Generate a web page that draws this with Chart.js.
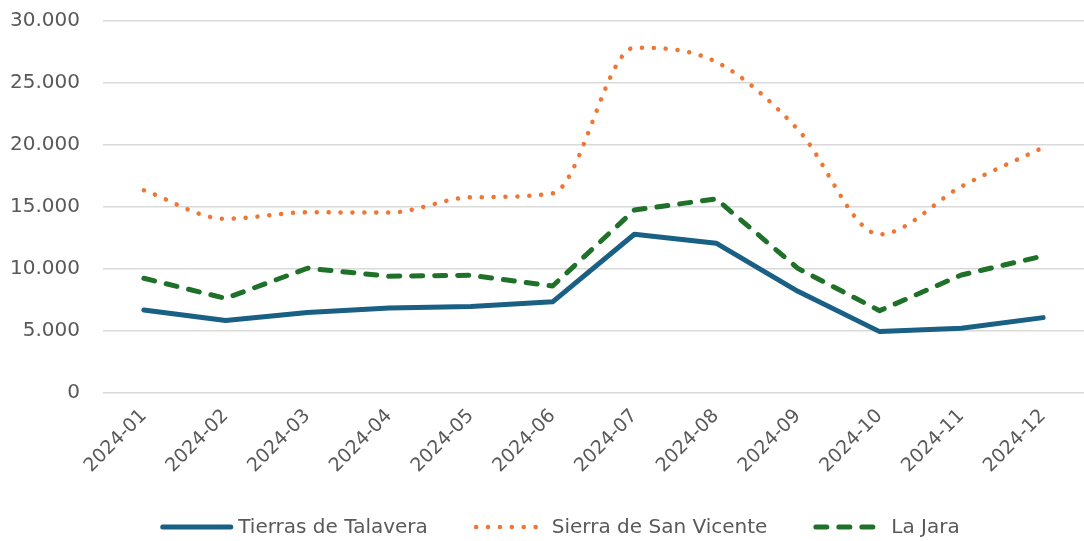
<!DOCTYPE html>
<html lang="es">
<head>
<meta charset="utf-8">
<title>Comarcas 2024</title>
<script src="https://cdn.jsdelivr.net/npm/chart.js@4/dist/chart.umd.min.js"></script>
<style>
  html, body { margin: 0; padding: 0; background: #ffffff; }
  #wrap { width: 1084px; height: 541px; position: relative; }
</style>
</head>
<body>
<div id="wrap"><canvas id="chart"></canvas></div>
<script>
const months = ["2024-01", "2024-02", "2024-03", "2024-04", "2024-05", "2024-06",
                "2024-07", "2024-08", "2024-09", "2024-10", "2024-11", "2024-12"];

const talavera = [6700, 5850, 6500, 6850, 6980, 7350, 12800, 12080, 8200, 4950, 5220, 6080];
const sanVicente = [16350, 14050, 14570, 14550, 15780, 16100, 27850, 26700, 21250, 12800, 16650, 19800];
const laJara = [9250, 7630, 10060, 9420, 9490, 8630, 14760, 15650, 10050, 6640, 9520, 11050];

const yTicks = [0, 5000, 10000, 15000, 20000, 25000, 30000];

const textColor = "#595959";
const fontFamily = "'DejaVu Sans', sans-serif";

// 12345 -> "12.345"
function fmt(v) {
  return String(v).replace(/\B(?=(\d{3})+(?!\d))/g, ".");
}

// bottom legend drawn by hand so the dashed/dotted samples keep their pattern
const lineLegend = {
  id: "lineLegend",
  afterDraw(chart) {
    const c = chart.ctx;
    const textOffset = 78, spacing = 46, y = 527, shift = 18;
    c.save();
    c.font = "20px " + fontFamily;
    const items = chart.data.datasets.map((ds) => ({
      ds,
      w: textOffset + c.measureText(ds.label).width,
    }));
    const total = items.reduce((s, it) => s + it.w, 0) + spacing * (items.length - 1);
    let x = (chart.width - total) / 2 + shift;
    items.forEach(({ ds, w }) => {
      const inset = ds.borderWidth / 2;
      c.beginPath();
      c.strokeStyle = ds.borderColor;
      c.lineWidth = ds.borderWidth;
      c.lineCap = ds.borderCapStyle || "butt";
      c.setLineDash(ds.borderDash || []);
      c.moveTo(x + inset, y);
      c.lineTo(x + inset + ds.legendLength, y);
      c.stroke();
      c.setLineDash([]);
      c.fillStyle = textColor;
      c.textBaseline = "middle";
      c.textAlign = "left";
      c.fillText(ds.label, x + textOffset, y + 1);
      x += w + spacing;
    });
    c.restore();
  },
};

const ctx = document.getElementById("chart").getContext("2d");

new Chart(ctx, {
  type: "line",
  data: {
    labels: months,
    datasets: [
      {
        label: "Tierras de Talavera",
        data: talavera,
        borderColor: "#1a5f84",
        backgroundColor: "#1a5f84",
        borderWidth: 5,
        borderCapStyle: "round",
        borderJoinStyle: "round",
        tension: 0,
        legendLength: 68,
      },
      {
        label: "Sierra de San Vicente",
        data: sanVicente,
        borderColor: "#ee7735",
        backgroundColor: "#ee7735",
        borderWidth: 4.5,
        borderDash: [0.1, 11.8],
        borderCapStyle: "round",
        borderJoinStyle: "round",
        cubicInterpolationMode: "monotone",
        legendLength: 62,
      },
      {
        label: "La Jara",
        data: laJara,
        borderColor: "#1f7129",
        backgroundColor: "#1f7129",
        borderWidth: 5,
        borderDash: [11, 12],
        borderCapStyle: "round",
        borderJoinStyle: "round",
        tension: 0,
        legendLength: 58,
      },
    ],
  },
  options: {
    responsive: true,
    maintainAspectRatio: false,
    animation: false,
    layout: { padding: { left: 10, right: 0, top: 21, bottom: 48 } },
    elements: { point: { radius: 0, hoverRadius: 0 } },
    plugins: {
      tooltip: { enabled: false },
      legend: { display: false },
    },
    scales: {
      x: {
        offset: true,
        grid: { display: false },
        border: { display: false },
        afterFit: (scale) => {
          scale.height = 100;
          scale.paddingLeft = 0;
          scale.paddingRight = 0;
        },
        ticks: {
          color: textColor,
          font: { family: fontFamily, size: 19 },
          maxRotation: 45,
          minRotation: 45,
          padding: 4,
        },
      },
      y: {
        min: 0,
        max: 30000,
        afterBuildTicks: (scale) => {
          scale.ticks = yTicks.map((v) => ({ value: v }));
        },
        afterFit: (scale) => {
          scale.width = 93;
          scale.paddingTop = 0;
          scale.paddingBottom = 0;
        },
        grid: { color: "#d9d9d9", lineWidth: 1.5, drawTicks: false },
        border: { display: false },
        ticks: {
          color: textColor,
          font: { family: fontFamily, size: 20 },
          padding: 23,
          callback: (v) => fmt(v),
        },
      },
    },
  },
  plugins: [lineLegend],
});
</script>
</body>
</html>
